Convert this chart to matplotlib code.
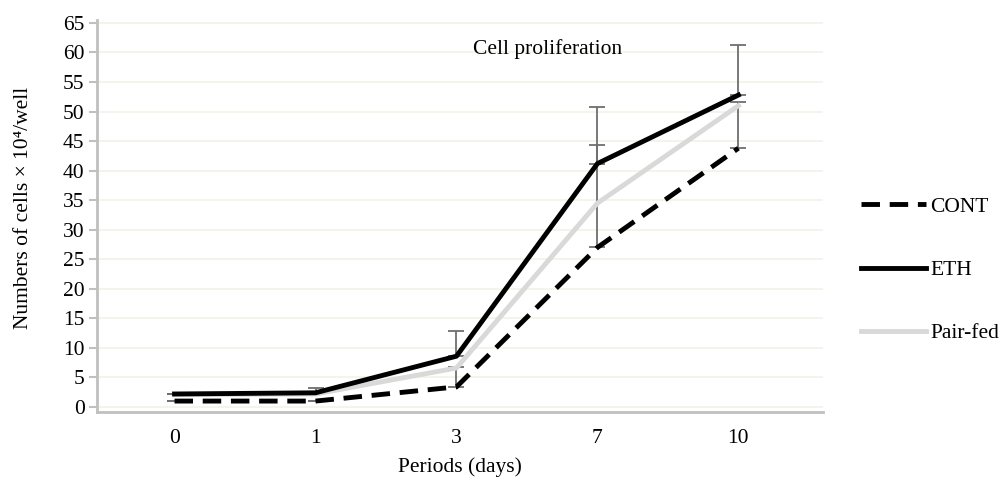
import numpy as np
import matplotlib
matplotlib.use("Agg")
import matplotlib.pyplot as plt

plt.rcParams['font.family'] = ['Liberation Serif', 'DejaVu Serif']

periods = ['0', '1', '3', '7', '10']
cont = [1.0, 1.0, 3.4, 27.0, 43.8]
eth = [2.2, 2.4, 8.6, 41.2, 52.8]
pair_fed = [2.1, 2.2, 6.6, 34.5, 51.0]

# upper error bars only, as in the source figure
cont_err = [0, 0, 3.4, 17.3, 7.8]
eth_err = [0, 0.8, 4.2, 9.6, 8.5]

GRID = '#f2f2e6'
SPINE = '#c0c0c0'
FS = 15.5

fig = plt.figure(figsize=(10.05, 4.79), dpi=100)
ax = fig.add_axes([97 / 1005, 1 - 412 / 479, (823 - 97) / 1005, (412 - 20) / 479])

x = np.arange(len(periods))

ax.errorbar(x, cont, yerr=[np.zeros(len(x)), cont_err], fmt='none',
            ecolor='#6e6e6e', elinewidth=1.3, capsize=6, capthick=1.3, zorder=2)
ax.errorbar(x, eth, yerr=[np.zeros(len(x)), eth_err], fmt='none',
            ecolor='#6e6e6e', elinewidth=1.3, capsize=6, capthick=1.3, zorder=2)

ax.plot(x, pair_fed, color='#d9d9d9', lw=3.5, label='Pair-fed', zorder=3)
ax.plot(x, cont, color='black', lw=3.5, ls=(0, (3.8, 2.0)), label='CONT', zorder=4)
ax.plot(x, eth, color='black', lw=3.5, label='ETH', zorder=5)

ax.set_xlim(-0.55, 4.6)
ax.set_ylim(-0.85, 65.5)
ax.set_yticks(np.arange(0, 66, 5))
ax.set_xticks(x)
ax.set_xticklabels(periods)
ax.tick_params(axis='x', length=0, pad=12, labelsize=FS)
ax.tick_params(axis='y', length=6, width=1.5, color=SPINE, pad=3, labelsize=FS)

ax.grid(axis='y', color=GRID, lw=1.2)
ax.set_axisbelow(True)
for side in ('top', 'right'):
    ax.spines[side].set_visible(False)
for side in ('left', 'bottom'):
    ax.spines[side].set_color(SPINE)
    ax.spines[side].set_linewidth(2)

ax.set_xlabel('Periods (days)', fontsize=FS, labelpad=7)
ax.set_ylabel('Numbers of cells × 10⁴/well', fontsize=FS)
ax.yaxis.set_label_coords(-0.088, 0.52)
ax.text(0.62, 0.925, 'Cell proliferation', transform=ax.transAxes,
        ha='center', va='center', fontsize=FS)

handles, labels = ax.get_legend_handles_labels()
order = [labels.index(n) for n in ('CONT', 'ETH', 'Pair-fed')]
fig.legend([handles[i] for i in order], [labels[i] for i in order],
           loc='center left', bbox_to_anchor=(842 / 1005, 1 - 270 / 479),
           frameon=False, fontsize=FS, handlelength=3.0, handletextpad=0.2,
           labelspacing=2.0)

fig.savefig('out.png', dpi=100)
